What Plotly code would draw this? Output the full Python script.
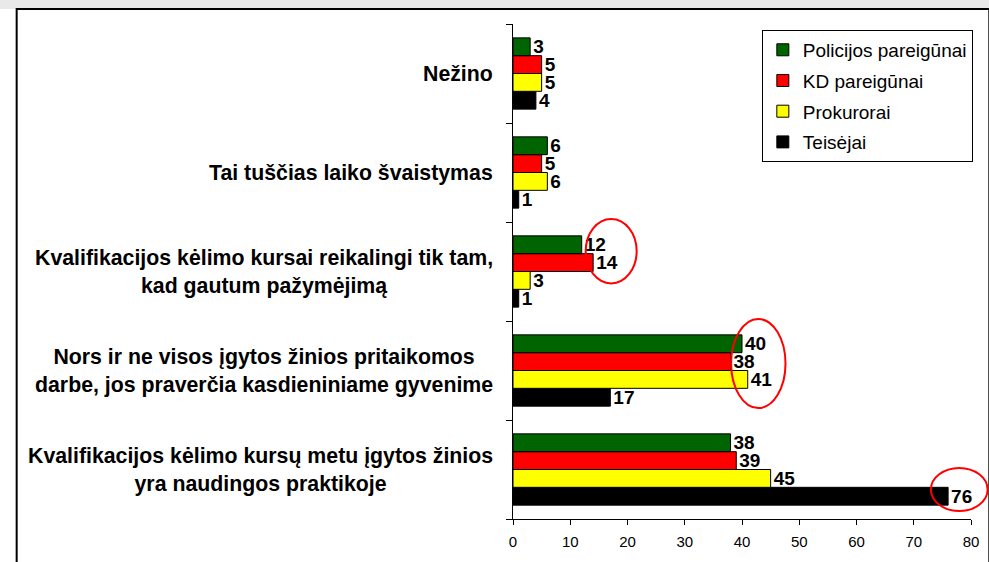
import plotly.graph_objects as go

# Categories listed bottom -> top (as drawn)
categories = [
    "Kvalifikacijos kėlimo kursų metu įgytos žinios<br>yra naudingos praktikoje",
    "Nors ir ne visos įgytos žinios pritaikomos<br>darbe, jos praverčia kasdieniniame gyvenime",
    "Kvalifikacijos kėlimo kursai reikalingi tik tam,<br>kad gautum pažymėjimą",
    "Tai tuščias laiko švaistymas",
    "Nežino",
]
policijos = [38, 40, 12, 6, 3]
kd = [39, 38, 14, 5, 5]
prokurorai = [45, 41, 3, 6, 5]
teisejai = [76, 17, 1, 1, 4]

series = [
    ("Teisėjai", teisejai, "#000000", 4),
    ("Prokurorai", prokurorai, "#ffff00", 3),
    ("KD pareigūnai", kd, "#ff0000", 2),
    ("Policijos pareigūnai", policijos, "#006400", 1),
]

FONT = "Arial, Liberation Sans, sans-serif"
XMAX = 80
NCAT = len(categories)

fig = go.Figure()
for name, vals, color, rank in series:
    fig.add_trace(go.Bar(
        y=categories, x=vals, name=name, orientation="h", legendgroup=name,
        legendrank=rank,
        marker=dict(color=color, line=dict(color="black", width=1)),
        text=vals, textposition="outside", constraintext="none",
        cliponaxis=False,
        textfont=dict(family=FONT, size=19, color="black", weight="bold"),
    ))

def to_paper(xv, yi):
    return xv / XMAX, (yi + 0.5) / NCAT

shapes = []
# top gray strip and outer frame
shapes.append(dict(type="rect", xref="paper", yref="paper",
                   x0=-1.2, x1=1.2, y0=(519 - 9) / 495, y1=1.2,
                   fillcolor="#e9e9e9", line=dict(width=0), layer="below"))
shapes.append(dict(type="rect", xref="paper", yref="paper",
                   x0=(8 - 513) / 466, x1=1.04, y0=-0.12, y1=(519 - 9) / 495,
                   fillcolor="white", line=dict(color="black", width=2), layer="below"))

ellipses = [((12.7, 1.88), (21.6, 2.53)),
            ((38.1, 0.62), (47.6, 1.52)),
            ((73.0, -0.42), (82.9, 0.015))]
for (xa, ya), (xb, yb) in ellipses:
    x0, y0 = to_paper(xa, ya)
    x1, y1 = to_paper(xb, yb)
    shapes.append(dict(type="circle", xref="paper", yref="paper",
                       x0=x0, x1=x1, y0=y0, y1=y1,
                       line=dict(color="#ff0000", width=2)))

annotations = []
for c in categories:
    annotations.append(dict(
        x=0, xref="paper", y=c, yref="y", xanchor="right", yanchor="middle",
        xshift=-18, text="<b>" + c + "</b>", showarrow=False, align="center",
        font=dict(family=FONT, size=21.3, color="black"),
    ))

fig.update_layout(
    width=989, height=562,
    margin=dict(l=513, r=10, t=24, b=43),
    paper_bgcolor="white", plot_bgcolor="white",
    barmode="group", bargap=0.28, bargroupgap=0,
    showlegend=True,
    legend=dict(x=1.004, xanchor="right", y=0.988, yanchor="top",
                traceorder="grouped", tracegroupgap=3,
                bgcolor="white", bordercolor="black", borderwidth=1,
                font=dict(family=FONT, size=19, color="black")),
    shapes=shapes, annotations=annotations,
    font=dict(family=FONT, color="black"),
)
fig.update_xaxes(range=[0, XMAX], dtick=10, showgrid=False, zeroline=False,
                 showline=True, linecolor="black", linewidth=1,
                 ticks="outside", ticklen=5, tickcolor="black",
                 tickfont=dict(family=FONT, size=15, color="black"),
                 ticklabelstandoff=4)
fig.update_yaxes(categoryorder="array", categoryarray=categories,
                 showgrid=False, zeroline=False, showline=True,
                 linecolor="black", linewidth=1, ticks="outside", ticklen=6,
                 tickcolor="black", tickson="boundaries", showticklabels=False)

fig.write_html(
    "out.html",
    config={"displayModeBar": False},
    post_script="document.body.style.margin='0';document.body.style.overflow='hidden';",
)
